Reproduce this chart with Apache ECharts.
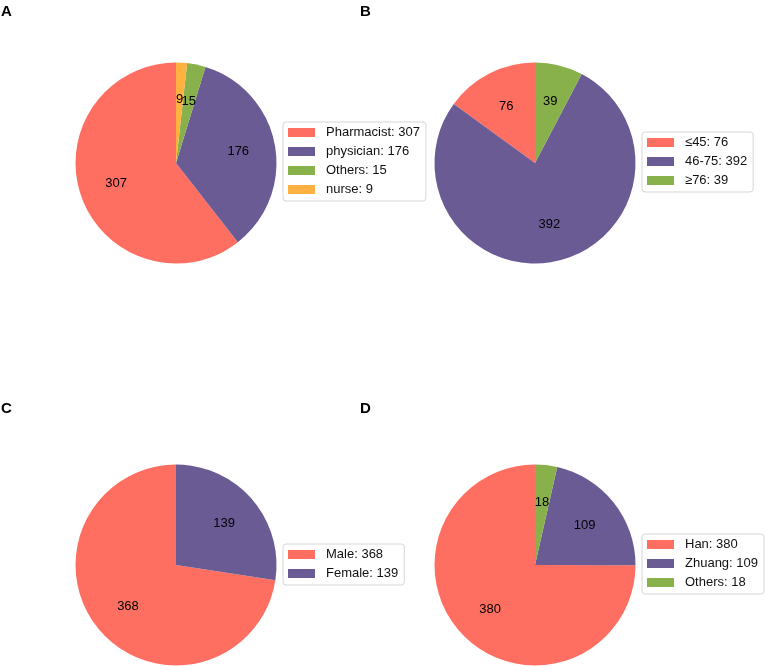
<!DOCTYPE html>
<html>
<head>
<meta charset="utf-8">
<script src="https://cdn.jsdelivr.net/npm/echarts@6/dist/echarts.min.js"></script>
<style>
  html, body { margin: 0; padding: 0; background: #fff; }
  #main { width: 766px; height: 666px; }
</style>
</head>
<body>
<div id="main"></div>
<script>
// panel A: occupation
const jobNames = ['Pharmacist', 'physician', 'Others', 'nurse'];
const jobValues = [307, 176, 15, 9];
// panel B: age
const ageNames = ['≤45', '46-75', '≥76'];
const ageValues = [76, 392, 39];
// panel C: sex
const sexNames = ['Male', 'Female'];
const sexValues = [368, 139];
// panel D: ethnicity
const ethNames = ['Han', 'Zhuang', 'Others'];
const ethValues = [380, 109, 18];

const colors = ['#FF6F61', '#6B5B95', '#88B04B', '#FFB142'];
const font = 'Liberation Sans, Arial, Helvetica, sans-serif';
const R = 100.5;

function toData(names, values) {
  return names.map((n, i) => ({
    name: n + ': ' + values[i],
    value: values[i],
    itemStyle: { color: colors[i] }
  }));
}

const panels = [
  { letter: 'A', names: jobNames, values: jobValues, cx: 176, cy: 163, lx: 283, ly: 122, tx: 1, ty: 4 },
  { letter: 'B', names: ageNames, values: ageValues, cx: 535, cy: 163, lx: 642, ly: 132, tx: 360, ty: 4 },
  { letter: 'C', names: sexNames, values: sexValues, cx: 176, cy: 565, lx: 283, ly: 544, tx: 1, ty: 401 },
  { letter: 'D', names: ethNames, values: ethValues, cx: 535, cy: 565, lx: 642, ly: 534, tx: 360, ty: 401 }
];

const title = [], legend = [], series = [];
panels.forEach(p => {
  const data = toData(p.names, p.values);
  title.push({
    text: p.letter, left: p.tx, top: p.ty, padding: 0,
    textStyle: { fontFamily: font, fontSize: 15, fontWeight: 'bold', color: '#000' }
  });
  legend.push({
    data: data.map(d => d.name),
    orient: 'vertical',
    left: p.lx, top: p.ly,
    padding: [4, 6, 5, 5],
    itemWidth: 27, itemHeight: 9, itemGap: 6,
    icon: 'rect',
    borderColor: '#d6d6d6', borderWidth: 1, borderRadius: 3,
    selectedMode: false,
    textStyle: { fontFamily: font, fontSize: 13, lineHeight: 13, color: '#111', padding: [0, 0, 0, 6] }
  });
  // the pie itself
  series.push({
    type: 'pie',
    center: [p.cx, p.cy],
    radius: [0, R],
    startAngle: 90,
    clockwise: false,
    avoidLabelOverlap: false,
    label: { show: false },
    labelLine: { show: false },
    itemStyle: { borderWidth: 0 },
    emphasis: { disabled: true },
    data: data
  });
  // transparent ring so the value labels sit at 0.6 of the radius
  series.push({
    type: 'pie',
    center: [p.cx, p.cy],
    radius: [R * 0.2, R],
    startAngle: 90,
    clockwise: false,
    silent: true,
    avoidLabelOverlap: false,
    minShowLabelAngle: 0,
    labelLayout: { hideOverlap: false },
    label: {
      show: true, position: 'inside',
      formatter: params => params.value,
      fontFamily: font, fontSize: 13, color: '#000'
    },
    labelLine: { show: false },
    emphasis: { disabled: true },
    data: data.map(d => ({ name: d.name, value: d.value, itemStyle: { color: 'transparent', borderWidth: 0 } }))
  });
});

const chart = echarts.init(document.getElementById('main'));
chart.setOption({
  animation: false,
  backgroundColor: '#fff',
  title: title,
  legend: legend,
  series: series
});
</script>
</body>
</html>
